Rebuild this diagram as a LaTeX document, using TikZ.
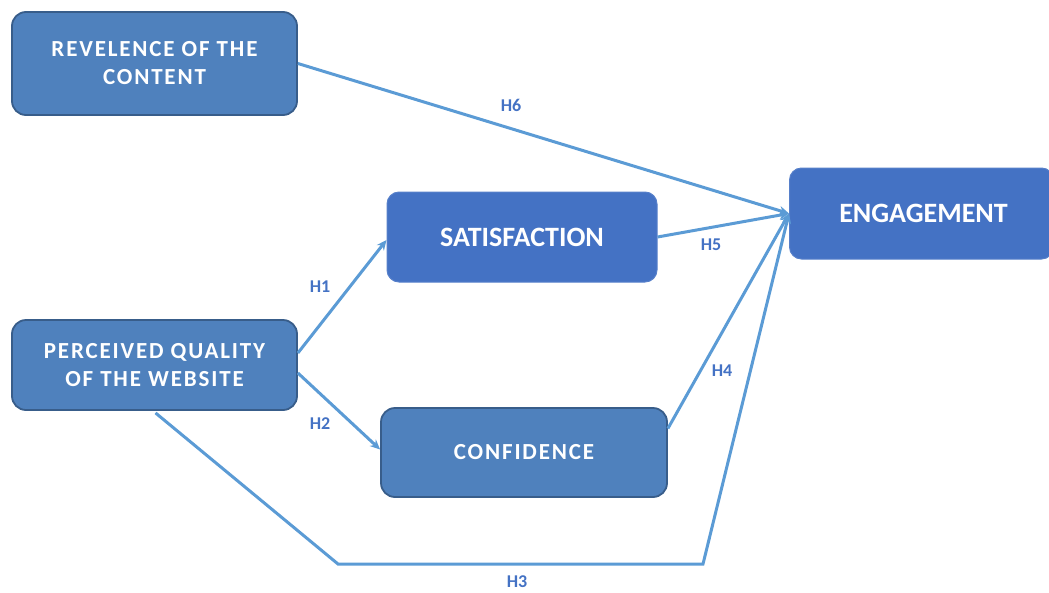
\documentclass[tikz,border=0pt]{standalone}
\usepackage{fontspec}
\setmainfont{Carlito}
\usetikzlibrary{arrows.meta,calc}
\definecolor{boxA}{HTML}{4F81BD}
\definecolor{boxAedge}{HTML}{385D8A}
\definecolor{boxB}{HTML}{4472C4}
\definecolor{link}{HTML}{5B9BD5}
\definecolor{lab}{HTML}{4472C4}
\tikzset{
  oldbox/.style={rectangle, rounded corners=14pt, fill=boxA, draw=boxAedge, line width=1.8pt,
    text=white, align=center, font=\fontsize{23}{28}\selectfont\bfseries\addfontfeature{LetterSpace=8}},
  newbox/.style={rectangle, rounded corners=12pt, fill=boxB, draw=boxB!90!white, line width=1pt,
    text=white, align=center, font=\fontsize{28}{32}\selectfont\bfseries},
  conn/.style={draw=link, line width=3pt, -{Stealth[length=10pt,width=9pt]}},
  hlab/.style={text=lab, font=\fontsize{18}{21}\selectfont\bfseries, inner sep=1pt}
}
\begin{document}
\begin{tikzpicture}[x=1pt,y=-1pt]
\useasboundingbox (0,0) rectangle (1049,592);
\node[oldbox, minimum width=285pt, minimum height=103pt] (rev) at (154.5,63.5) {REVELENCE OF THE\\CONTENT};
\node[newbox, minimum width=270pt, minimum height=90pt] (sat) at (522,237) {SATISFACTION};
\node[newbox, minimum width=264pt, minimum height=91pt, anchor=west] (eng) at (789,213.5) {\hspace*{2pt}ENGAGEMENT\hspace*{-2pt}};
\node[oldbox, minimum width=285pt, minimum height=90pt] (per) at (154.5,365) {PERCEIVED QUALITY\\OF THE WEBSITE};
\node[oldbox, minimum width=286pt, minimum height=89pt] (conf) at (524,452.5) {CONFIDENCE};
\coordinate (c1) at (338,564);
\coordinate (c2) at (703,564);
\draw[conn] (rev.east) -- (eng.west);
\draw[conn] (sat.east) -- (eng.west);
\draw[conn] ($(per.east)+(0,-12)$) -- ($(sat.west)+(0,3)$);
\draw[conn] ($(per.east)+(0,8)$) -- ($(conf.west)+(0,-3)$);
\draw[conn] ($(conf.east)+(0,-24)$) -- (eng.west);
\draw[conn] ($(per.south)+(1,2)$) -- (c1) -- (c2) -- (eng.west);
\node[hlab] (h6) at (511,105) {H6};
\node[hlab] (h5) at (711,245) {H5};
\node[hlab] (h1) at (320,287) {H1};
\node[hlab] (h2) at (320,424) {H2};
\node[hlab] (h4) at (722,371) {H4};
\node[hlab] (h3) at (517,582) {H3};
\end{tikzpicture}
\end{document}
